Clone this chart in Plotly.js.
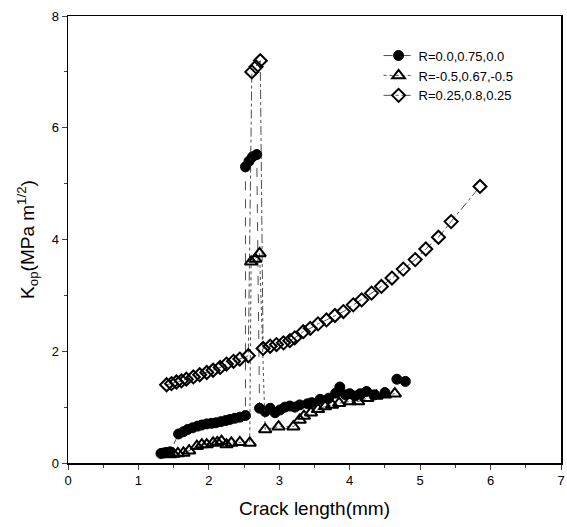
<!DOCTYPE html>
<html>
<head>
<meta charset="utf-8">
<script src="https://cdn.plot.ly/plotly-3.0.1.min.js"></script>
<style>html,body{margin:0;padding:0;background:#fff;}#chart{width:567px;height:527px;}</style>
</head>
<body>
<div id="chart"></div>
<script>
// Series R=0.0,0.75,0.0 (filled circles)
const circX = [1.32,1.36,1.40,1.45,1.57,1.64,1.70,1.77,1.84,1.90,1.97,2.04,2.10,2.17,2.24,2.30,2.37,2.44,2.52,2.52,2.57,2.62,2.68,2.72,2.80,2.87,2.94,3.01,3.08,3.15,3.22,3.29,3.40,3.46,3.58,3.70,3.80,3.86,3.94,4.00,4.08,4.15,4.24,4.35,4.50,4.67,4.79];
const circY = [0.17,0.18,0.19,0.20,0.52,0.56,0.60,0.63,0.66,0.68,0.70,0.71,0.72,0.74,0.76,0.78,0.80,0.82,0.85,5.30,5.40,5.48,5.52,0.98,0.92,0.98,0.90,0.95,1.00,1.02,1.00,1.04,1.06,1.08,1.14,1.16,1.25,1.36,1.22,1.24,1.20,1.24,1.28,1.22,1.26,1.50,1.46];

// Series R=-0.5,0.67,-0.5 (open triangles)
const triX = [1.45,1.50,1.56,1.64,1.72,1.83,1.90,1.97,2.06,2.12,2.18,2.25,2.32,2.44,2.58,2.60,2.66,2.72,2.80,2.99,3.20,3.29,3.35,3.45,3.55,3.65,3.75,3.85,4.00,4.12,4.25,4.38,4.50,4.64];
const triY = [0.15,0.16,0.17,0.18,0.22,0.30,0.33,0.33,0.36,0.37,0.39,0.33,0.36,0.37,0.36,3.60,3.65,3.75,0.60,0.65,0.65,0.77,0.84,0.90,0.96,1.01,1.04,1.07,1.10,1.10,1.16,1.20,1.22,1.24];

// Series R=0.25,0.8,0.25 (open diamonds)
const diaX = [1.40,1.47,1.54,1.61,1.68,1.78,1.87,1.97,2.06,2.16,2.25,2.35,2.44,2.56,2.61,2.67,2.73,2.77,2.87,2.96,3.06,3.15,3.22,3.34,3.44,3.55,3.67,3.79,3.91,4.05,4.17,4.31,4.45,4.60,4.76,4.93,5.08,5.26,5.44,5.85];
const diaY = [1.40,1.42,1.45,1.47,1.50,1.54,1.58,1.62,1.66,1.71,1.77,1.82,1.86,1.92,7.00,7.09,7.20,2.05,2.09,2.12,2.15,2.19,2.24,2.35,2.41,2.49,2.56,2.64,2.71,2.83,2.92,3.04,3.16,3.31,3.47,3.64,3.83,4.04,4.32,4.95];

const names = ["R=0.0,0.75,0.0","R=-0.5,0.67,-0.5","R=0.25,0.8,0.25"];
const xTickVals = [0,1,2,3,4,5,6,7];
const yTickVals = [0,2,4,6,8];

const traces = [
  {x: circX, y: circY, name: names[0], mode: 'lines+markers',
   line: {color: '#222', width: 0.8, dash: 'dash'},
   marker: {symbol: 'circle', size: 10, color: '#000', line: {color: '#000', width: 1}}},
  {x: triX, y: triY, name: names[1], mode: 'lines+markers',
   line: {color: '#222', width: 0.8, dash: 'dot'},
   marker: {symbol: 'triangle-up-open', size: 11, color: '#000', line: {color: '#000', width: 2}}},
  {x: diaX, y: diaY, name: names[2], mode: 'lines+markers',
   line: {color: '#222', width: 0.8, dash: 'dashdot'},
   marker: {symbol: 'diamond-open', size: 10, color: '#000', line: {color: '#000', width: 2}}}
];

const layout = {
  width: 567, height: 527,
  margin: {l: 68, r: 6, t: 16, b: 64},
  paper_bgcolor: '#fff', plot_bgcolor: '#fff',
  font: {family: 'Liberation Sans, Arial, sans-serif', color: '#000', size: 13},
  showlegend: true,
  legend: {x: 0.63, y: 0.945, xanchor: 'left', yanchor: 'top', bgcolor: 'rgba(0,0,0,0)',
           font: {size: 13, family: 'Liberation Sans, Arial, sans-serif'}, tracegroupgap: 0},
  xaxis: {range: [0, 7], tickvals: xTickVals, ticks: 'outside', ticklen: 5, tickwidth: 1,
          showline: true, linecolor: '#000', linewidth: 1.5, mirror: true, showgrid: false, zeroline: false,
          minor: {dtick: 0.5, ticks: 'outside', ticklen: 3},
          tickfont: {size: 13},
          title: {text: 'Crack length(mm)', font: {size: 19}, standoff: 14}},
  yaxis: {range: [0, 8], tickvals: yTickVals, ticks: 'outside', ticklen: 5, tickwidth: 1,
          showline: true, linecolor: '#000', linewidth: 1.5, mirror: true, showgrid: false, zeroline: false,
          minor: {dtick: 1, ticks: 'outside', ticklen: 3},
          tickfont: {size: 13},
          title: {text: 'K<sub>op</sub>(MPa m<sup>1/2</sup>)', font: {size: 19}, standoff: 12}}
};

Plotly.newPlot('chart', traces, layout, {displayModeBar: false, staticPlot: true});
</script>
</body>
</html>
